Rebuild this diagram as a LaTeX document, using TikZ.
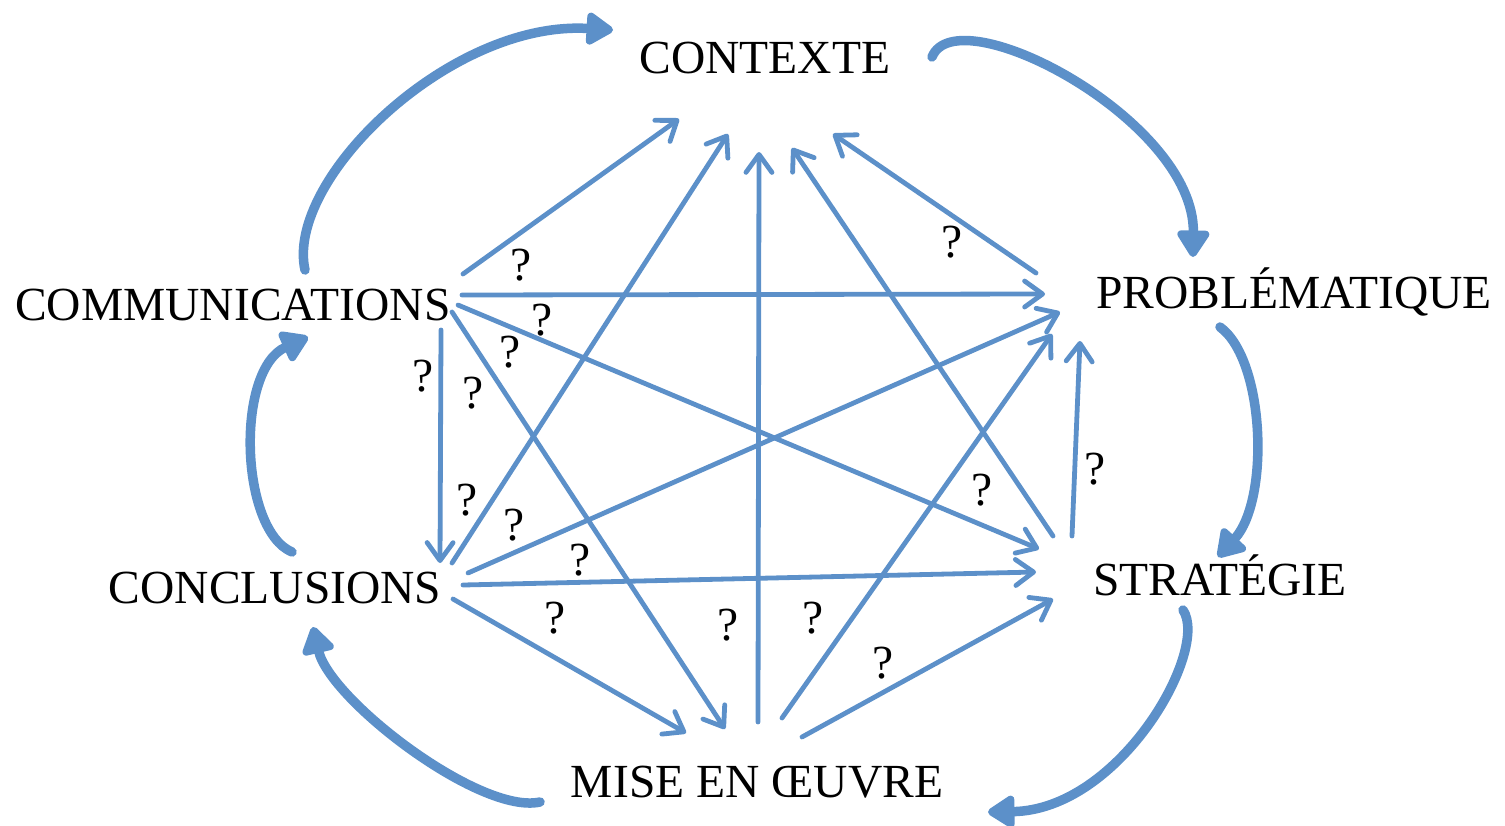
\documentclass[tikz,border=0pt]{standalone}
\usepackage{fontspec}
\setmainfont{Liberation Serif}
\usetikzlibrary{arrows.meta}
\definecolor{flow}{RGB}{92,144,201}

\begin{document}
\begin{tikzpicture}[
  x=1pt, y=-1pt,
  font=\fontsize{47.5}{57}\selectfont,
  stage/.style={anchor=base, inner sep=0pt},
  qm/.style={inner sep=0pt},
  ax/.style={
    draw=flow, line width=4.8pt, line cap=round,
    -{Straight Barb[length=18pt, width=26pt, round]}
  },
  cyc/.style={
    draw=flow, line width=9.5pt, line cap=round,
    -{Triangle[length=30pt, width=36pt, round]}
  }
]
\useasboundingbox (0,0) rectangle (1505,825);

% ---- the six stages, clockwise from the top
\node[stage] (ctx) at (765,73)  {CONTEXTE};
\node[stage] (prb) at (1294,308) {PROBLÉMATIQUE};
\node[stage] (str) at (1220,595) {STRATÉGIE};
\node[stage] (meo) at (757,797)  {MISE EN ŒUVRE};
\node[stage] (ccl) at (275,603)  {CONCLUSIONS};
\node[stage] (com) at (233,320)  {COMMUNICATIONS};

% ---- the outer cycle
\draw[cyc] ([shift={(72,-50)}]com.base)
  .. controls +(-20,-90) and +(-163,-10) .. ([shift={(-152,-43)}]ctx.base);
\draw[cyc] ([shift={(167,-16)}]ctx.base)
  .. controls +(25,-62) and +(2,-137) .. ([shift={(-101,-51)}]prb.base);
\draw[cyc] ([shift={(-74,19)}]prb.base)
  .. controls +(45,33) and +(52,-57) .. ([shift={(-2,-38)}]str.base);
\draw[cyc] ([shift={(-37,15)}]str.base)
  .. controls +(27,40) and +(132,-2) .. ([shift={(231,15)}]meo.base);
\draw[cyc] ([shift={(-217,5)}]meo.base)
  .. controls +(-60,13) and +(17,73) .. ([shift={(38,24)}]ccl.base);
\draw[cyc] ([shift={(17,-51)}]ccl.base)
  .. controls +(-52,-22) and +(-73,33) .. ([shift={(75,17)}]com.base);

% ---- links into CONTEXTE
\draw[ax] ([shift={(230,-46)}]com.base) -- ([shift={(-86,46)}]ctx.base);
\draw[ax] ([shift={(177,-40)}]ccl.base) -- ([shift={(-37,61)}]ctx.base);
\draw[ax] ([shift={(1,-75)}]meo.base)   -- ([shift={(-6,79)}]ctx.base);
\draw[ax] ([shift={(-167,-59)}]str.base) -- ([shift={(27,75)}]ctx.base);
\draw[ax] ([shift={(-258,-35)}]prb.base) -- ([shift={(68,61)}]ctx.base);

% ---- links into PROBLÉMATIQUE
\draw[ax] ([shift={(229,-25)}]com.base) -- ([shift={(-249,-14)}]prb.base);
\draw[ax] ([shift={(193,-30)}]ccl.base) -- ([shift={(-234,4)}]prb.base);
\draw[ax] ([shift={(25,-79)}]meo.base)  -- ([shift={(-242,26)}]prb.base);
\draw[ax] ([shift={(-148,-59)}]str.base) -- ([shift={(-214,33)}]prb.base);

% ---- links into STRATÉGIE
\draw[ax] ([shift={(225,-15)}]com.base) -- ([shift={(-181,-46)}]str.base);
\draw[ax] ([shift={(188,-18)}]ccl.base) -- ([shift={(-184,-23)}]str.base);
\draw[ax] ([shift={(45,-60)}]meo.base)  -- ([shift={(-167,4)}]str.base);

% ---- links into MISE EN ŒUVRE and CONCLUSIONS
\draw[ax] ([shift={(219,-8)}]com.base)  -- ([shift={(-32,-68)}]meo.base);
\draw[ax] ([shift={(178,-4)}]ccl.base)  -- ([shift={(-71,-64)}]meo.base);
\draw[ax] ([shift={(208,10)}]com.base)  -- ([shift={(165,-40)}]ccl.base);

% ---- the question marks
\foreach \p [count=\i] in {(521,265), (952,242), (542,320), (510,352),
    (423,376), (473,393), (467,500), (514,525), (580,560), (555,618),
    (728,625), (813,618), (883,663), (982,490), (1095,469)}
  \node[qm] (q\i) at \p {?};

\end{tikzpicture}
\end{document}
